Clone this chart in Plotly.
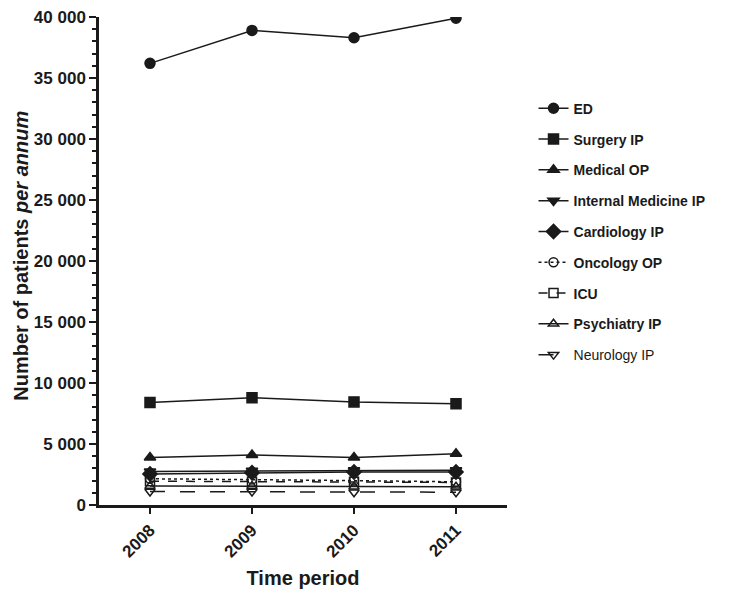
import plotly.graph_objects as go

years = ["2008", "2009", "2010", "2011"]

series_names = ["ED", "Surgery IP", "Medical OP", "Internal Medicine IP", "Cardiology IP",
                "Oncology OP", "ICU", "Psychiatry IP", "Neurology IP"]

ed = [36200, 38900, 38300, 39900]
surgery_ip = [8400, 8800, 8450, 8300]
medical_op = [3900, 4100, 3900, 4200]
internal_medicine_ip = [2750, 2800, 2850, 2850]
cardiology_ip = [2550, 2650, 2700, 2700]
oncology_op = [2150, 2100, 2000, 1900]
icu = [1950, 1900, 1900, 1850]
psychiatry_ip = [1550, 1550, 1500, 1500]
neurology_ip = [1100, 1100, 1050, 1050]

y_tickvals = [0, 5000, 10000, 15000, 20000, 25000, 30000, 35000, 40000]
y_ticktext = ["0", "5 000", "10 000", "15 000", "20 000", "25 000", "30 000", "35 000", "40 000"]

values = [ed, surgery_ip, medical_op, internal_medicine_ip, cardiology_ip,
          oncology_op, icu, psychiatry_ip, neurology_ip]
symbols = ["circle", "square", "triangle-up", "triangle-down", "diamond",
           "circle-open", "square-open", "triangle-up-open", "triangle-down-open"]
dashes = ["solid", "solid", "solid", "solid", "solid", "dot", "dash", "solid", "longdash"]
sizes = [10, 10, 10, 10, 11, 9, 9, 9, 9]

fig = go.Figure()
for i, (name, vals) in enumerate(zip(series_names, values)):
    label = name if name == "Neurology IP" else f"<b>{name}</b>"
    fig.add_trace(go.Scatter(
        x=years, y=vals, name=label, mode="lines+markers",
        legendgroup=f"g{i}",
        line=dict(color="#1a1a1a", width=1.5, dash=dashes[i]),
        marker=dict(symbol=symbols[i], size=sizes[i], color="#1a1a1a",
                    line=dict(color="#1a1a1a", width=1.5)),
    ))

font_family = "Arial, Liberation Sans, sans-serif"

fig.update_layout(
    width=729, height=595,
    margin=dict(l=91, r=230, t=9, b=98, autoexpand=False),
    paper_bgcolor="white", plot_bgcolor="white",
    font=dict(family=font_family, color="#1a1a1a"),
    showlegend=True,
    legend=dict(
        x=1.065, y=0.845, xanchor="left", yanchor="top",
        font=dict(size=14, family=font_family, color="#1a1a1a"),
        tracegroupgap=9.6, traceorder="grouped",
        itemwidth=30, bgcolor="rgba(0,0,0,0)",
    ),
    xaxis=dict(
        type="category", range=[-0.5, 3.5], automargin=False,
        showline=True, linecolor="#1a1a1a", linewidth=2.5,
        ticks="outside", ticklen=6, tickwidth=2, tickcolor="#1a1a1a",
        tickangle=-45, showgrid=False, zeroline=False,
        tickfont=dict(size=17, family=font_family, weight="bold"),
        title=dict(text="<b>Time period</b>", font=dict(size=20), standoff=11),
    ),
    yaxis=dict(
        range=[0, 40000], automargin=False, ticklabeloverflow="allow",
        showline=True, linecolor="#1a1a1a", linewidth=2.5,
        tickmode="array", tickvals=y_tickvals, ticktext=y_ticktext,
        ticks="outside", ticklen=7, tickwidth=2, tickcolor="#1a1a1a",
        minor=dict(dtick=1000, ticks="outside", ticklen=4, tickwidth=1.5,
                   tickcolor="#1a1a1a", showgrid=False),
        showgrid=False, zeroline=False,
        tickfont=dict(size=17, family=font_family, weight="bold"),
    ),
    annotations=[dict(
        text="<b>Number of patients <i>per annum</i></b>",
        xref="paper", yref="paper", x=-0.192, y=0.51,
        xanchor="center", yanchor="middle", textangle=-90, showarrow=False,
        font=dict(size=20, family=font_family, color="#1a1a1a"),
    )],
)

fig.write_html("out.html")
